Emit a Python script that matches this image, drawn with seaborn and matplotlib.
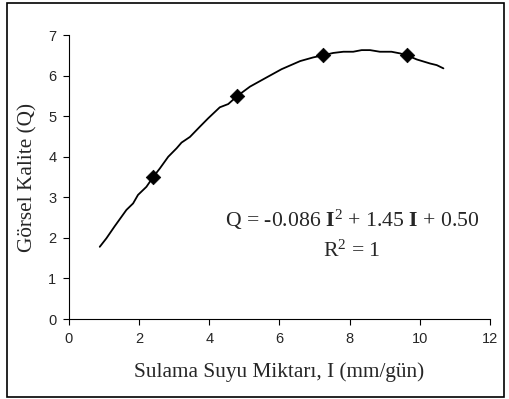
import matplotlib
matplotlib.use("Agg")
import matplotlib.pyplot as plt
from matplotlib.patches import Rectangle
import seaborn as sns
import pandas as pd

# Measured points (diamonds)
irrigation = [2.40, 4.80, 7.23, 9.64]
quality = [3.5, 5.5, 6.5, 6.5]

# Trend line
curve_x = [0.88, 1.07, 1.30, 1.64, 1.83, 1.97, 2.21, 2.40, 2.59, 2.83, 3.07, 3.21, 3.45,
           3.73, 3.97, 4.30, 4.54, 4.80, 5.16, 5.64, 6.06, 6.59, 6.96, 7.23, 7.53,
           7.82, 8.10, 8.34, 8.58, 8.86, 9.19, 9.43, 9.64, 9.91, 10.29, 10.48, 10.67]
curve_y = [1.78, 1.99, 2.28, 2.69, 2.85, 3.06, 3.26, 3.50, 3.71, 4.00, 4.21, 4.35, 4.49,
           4.74, 4.95, 5.22, 5.30, 5.50, 5.73, 5.96, 6.16, 6.36, 6.45, 6.50, 6.56,
           6.59, 6.59, 6.63, 6.63, 6.59, 6.59, 6.55, 6.50, 6.40, 6.30, 6.26, 6.18]

x_ticks = [0, 2, 4, 6, 8, 10, 12]
y_ticks = [0, 1, 2, 3, 4, 5, 6, 7]

sns.set_style("ticks")
plt.rcParams['font.family'] = ['Liberation Sans', 'DejaVu Sans']
plt.rcParams['mathtext.fontset'] = 'custom'
plt.rcParams['mathtext.rm'] = 'Liberation Serif'
plt.rcParams['mathtext.bf'] = 'Liberation Serif:bold'
plt.rcParams['mathtext.it'] = 'Liberation Serif:italic'

fig = plt.figure(figsize=(5.10, 3.99), dpi=100)
fig.patch.set_facecolor("white")
ax = fig.add_axes([0.135, 0.2005, 0.826, 0.7115])

df_curve = pd.DataFrame({"I": curve_x, "Q": curve_y})
df_pts = pd.DataFrame({"I": irrigation, "Q": quality})

sns.lineplot(data=df_curve, x="I", y="Q", sort=False, estimator=None,
             color="black", linewidth=1.3, ax=ax)
sns.scatterplot(data=df_pts, x="I", y="Q", marker="D", s=55, color="black",
                edgecolor="black", linewidth=0.5, ax=ax, zorder=5)

ax.set_xlim(0, 12)
ax.set_ylim(0, 7)
ax.set_xticks(x_ticks)
ax.set_yticks(y_ticks)
ax.tick_params(axis="both", labelsize=10.5, length=4, width=0.8, color="black",
               direction="out", pad=5)
for s in ["top", "right"]:
    ax.spines[s].set_visible(False)
for s in ["left", "bottom"]:
    ax.spines[s].set_linewidth(0.8)
    ax.spines[s].set_color("black")

ax.set_xlabel("Sulama Suyu Miktarı, I (mm/gün)", family="Liberation Serif",
              fontsize=15.3, labelpad=12)
ax.set_ylabel("Görsel Kalite (Q)", family="Liberation Serif", fontsize=15.3,
              labelpad=8)

ax.text(8.07, 2.44, r"Q = -0.086 $\mathbf{I}^{\mathrm{2}}$ + 1.45 $\mathbf{I}$ + 0.50",
        family="Liberation Serif", fontsize=15.7, ha="center", va="center")
ax.text(8.07, 1.66, r"R$^{\mathrm{2}}$ = 1", family="Liberation Serif",
        fontsize=15.7, ha="center", va="center")

fig.patches.append(Rectangle((7/510, 2/399), 497/510, 394/399, transform=fig.transFigure,
                             fill=False, edgecolor="black", linewidth=1.2))

fig.savefig("out.png", dpi=100, facecolor="white")
